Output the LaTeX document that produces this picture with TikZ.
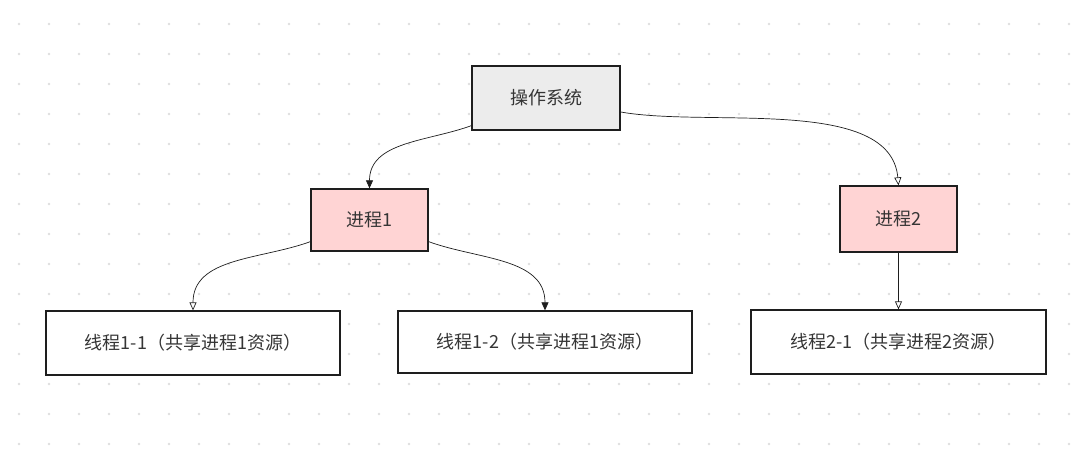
\documentclass[tikz,border=0pt]{standalone}
\usepackage{fontspec}
\newfontfamily\cjk{Noto Sans CJK SC}
\usepackage{tikz}
\definecolor{strich}{RGB}{30,30,30}
\definecolor{rosa}{RGB}{255,212,212}
\definecolor{grau}{RGB}{236,236,236}
\definecolor{punkt}{RGB}{222,222,222}
\usetikzlibrary{arrows.meta}

\begin{document}
\begin{tikzpicture}[x=1pt, y=-1pt, font=\cjk\fontsize{18}{22}\selectfont,
					kasten/.style={draw=strich, line width=1.3pt, inner sep=0pt, text=strich!90, minimum width=#1},
					pfeil/.style={draw=strich, line width=0.7pt},
					voll/.style={-{Triangle[length=8pt,width=7pt]}},   %gefuellte Spitze
					offen/.style={-{Triangle[open,length=8pt,width=7pt]}}]
					\useasboundingbox (0,0) rectangle (1090,454);
					\fill[white] (0,0) rectangle (1090,454);
					% Punktraster
					\foreach \x in {19,49,...,1069}
						\foreach \y in {24,54,...,444}
							\fill[punkt] (\x,\y) circle (1.3pt);
					\node[kasten=148pt, minimum height=64pt, fill=grau] (os) at (546,98) {操作系统};
					\node[kasten=117pt, minimum height=62pt, fill=rosa] (p1) at (369.5,220) {进程1};
					\node[kasten=117pt, minimum height=66pt, fill=rosa] (p2) at (898.5,219) {进程2};
					\node[kasten=294pt, minimum height=64pt, fill=white] (t11) at (193,343) {线程1-1（共享进程1资源）};
					\node[kasten=294pt, minimum height=62pt, fill=white] (t12) at (545,342) {线程1-2（共享进程1资源）};
					\node[kasten=295pt, minimum height=64pt, fill=white] (t21) at (898.5,342) {线程2-1（共享进程2资源）};
					\draw[pfeil, voll] ([yshift=5pt]os.south west) to[out=200, in=90] (p1.north);
					\draw[pfeil, offen] ([yshift=-14pt]os.east) to[out=-10, in=95, looseness=0.8] (p2.north);
					\draw[pfeil, offen] ([yshift=10pt]p1.south west) to[out=200, in=90] (t11.north);
					\draw[pfeil, voll] ([yshift=10pt]p1.south east) to[out=-20, in=90] (t12.north);
					\draw[pfeil, offen] (p2.south) -- (t21.north);
				\end{tikzpicture}
\end{document}
